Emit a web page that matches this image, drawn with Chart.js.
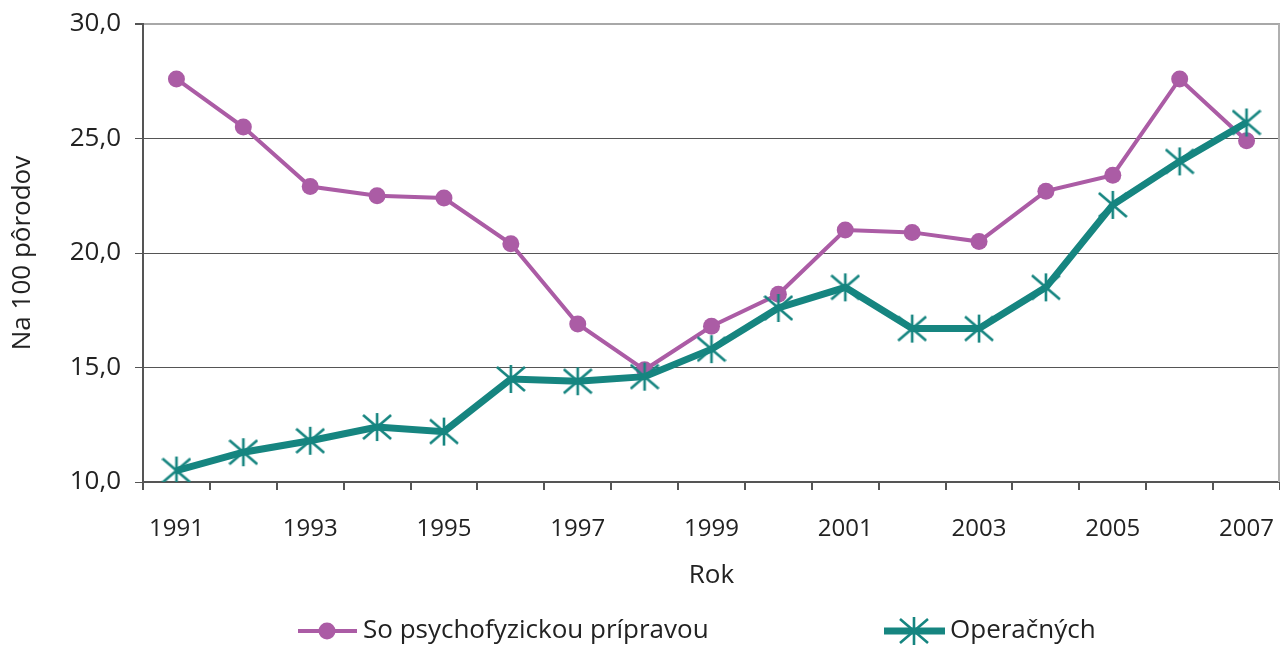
<!DOCTYPE html>
<html>
<head>
<meta charset="utf-8">
<script src="https://cdn.jsdelivr.net/npm/chart.js@4/dist/chart.umd.min.js"></script>
<style>
html,body{margin:0;padding:0;background:#fff;overflow:hidden;}
canvas{display:block;}
</style>
</head>
<body>
<canvas id="c" width="1280" height="648"></canvas>
<script>
const years = ['1991','1992','1993','1994','1995','1996','1997','1998','1999','2000','2001','2002','2003','2004','2005','2006','2007'];
const psychofyzicka = [27.6, 25.5, 22.9, 22.5, 22.4, 20.4, 16.9, 14.9, 16.8, 18.2, 21.0, 20.9, 20.5, 22.7, 23.4, 27.6, 24.9];
const operacne = [10.5, 11.3, 11.8, 12.4, 12.2, 14.5, 14.4, 14.6, 15.8, 17.6, 18.5, 16.7, 16.7, 18.5, 22.1, 24.0, 25.7];
const seriesNames = ['So psychofyzickou prípravou', 'Operačných'];
const yTicks = [10, 15, 20, 25, 30];

const PURPLE = '#AB5CA5';
const GREEN = '#168580';
const FONT = "'Open Sans', 'Liberation Sans', sans-serif";

function makeAsterisk(size, color, lw) {
  const cv = document.createElement('canvas');
  cv.width = size; cv.height = size;
  const g = cv.getContext('2d');
  g.strokeStyle = color; g.lineWidth = lw; g.lineCap = 'butt';
  const c = size / 2;
  g.beginPath();
  g.moveTo(c, 1); g.lineTo(c, size - 1);
  g.moveTo(1, size * 0.1); g.lineTo(size - 1, size * 0.9);
  g.moveTo(1, size * 0.9); g.lineTo(size - 1, size * 0.1);
  g.stroke();
  return cv;
}
const asterisk = makeAsterisk(30, GREEN, 2.6);

const customLegend = {
  id: 'customLegend',
  afterDraw(chart) {
    const ctx = chart.ctx;
    const y = 631;
    ctx.save();
    ctx.font = "26px " + FONT;
    ctx.textBaseline = 'middle';
    ctx.textAlign = 'left';
    ctx.strokeStyle = PURPLE; ctx.lineWidth = 4;
    ctx.beginPath(); ctx.moveTo(298, y); ctx.lineTo(357, y); ctx.stroke();
    ctx.fillStyle = PURPLE;
    ctx.beginPath(); ctx.arc(327, y, 8.5, 0, Math.PI * 2); ctx.fill();
    ctx.fillStyle = '#222';
    ctx.fillText(seriesNames[0], 363, y);
    ctx.strokeStyle = GREEN; ctx.lineWidth = 7;
    ctx.beginPath(); ctx.moveTo(884, y); ctx.lineTo(945, y); ctx.stroke();
    ctx.drawImage(asterisk, 914 - 15, y - 15);
    ctx.fillText(seriesNames[1], 950, y);
    ctx.restore();
  }
};

// stretch the plot area to the right edge of the canvas
const stretchRight = {
  id: 'stretchRight',
  afterLayout(chart) {
    const a = chart.chartArea;
    const newRight = chart.width;
    if (a.right < newRight) {
      a.right = newRight; a.width = newRight - a.left;
      const x = chart.scales.x;
      x.right = newRight; x.width = newRight - x.left;
      x.configure();
    }
  }
};

const frame = {
  id: 'frame',
  beforeDatasetsDraw(chart) {
    const a = chart.chartArea, ctx = chart.ctx;
    ctx.save();
    ctx.strokeStyle = '#b0b0b0'; ctx.lineWidth = 2;
    ctx.beginPath(); ctx.moveTo(a.right - 1, a.top); ctx.lineTo(a.right - 1, a.bottom); ctx.stroke();
    ctx.restore();
  }
};

function zeroPad(s) {
  s.paddingLeft = 0; s.paddingRight = 0; s.paddingTop = 0; s.paddingBottom = 0;
  s.getPadding = () => ({ left: 0, right: 0, top: 0, bottom: 0 });
}

new Chart(document.getElementById('c'), {
  type: 'line',
  data: {
    labels: years,
    datasets: [
      {
        label: seriesNames[0], data: psychofyzicka, order: 1,
        borderColor: PURPLE, backgroundColor: PURPLE, borderWidth: 4,
        pointRadius: 8.5, pointHoverRadius: 8.5, pointBorderWidth: 0,
        pointBackgroundColor: PURPLE, tension: 0
      },
      {
        label: seriesNames[1], data: operacne, order: 0,
        borderColor: GREEN, backgroundColor: GREEN, borderWidth: 7,
        pointStyle: asterisk, pointRadius: 15, pointHoverRadius: 15,
        tension: 0
      }
    ]
  },
  options: {
    responsive: false,
    animation: false,
    devicePixelRatio: 1,
    layout: { padding: { left: 0, right: 0, top: 24, bottom: 46 } },
    plugins: { legend: { display: false }, tooltip: { enabled: false } },
    scales: {
      x: {
        offset: true,
        grid: { offset: true, drawOnChartArea: false, drawTicks: true, tickLength: 8, color: '#555', lineWidth: 2 },
        border: { display: true, color: '#555', width: 2 },
        ticks: {
          autoSkip: false, maxRotation: 0, padding: 25, color: '#222',
          font: { family: FONT, size: 24 },
          callback: function(v, i) { return i % 2 === 0 ? years[i] : ''; }
        },
        title: { display: true, text: 'Rok', color: '#222', font: { family: FONT, size: 26 }, padding: { top: 0, bottom: 11 } },
        afterFit(s) { s.height = 120; zeroPad(s); }
      },
      y: {
        min: 10, max: 30,
        afterBuildTicks(s) { s.ticks = yTicks.map(v => ({ value: v })); },
        grid: {
          color: ctx => (ctx.tick && ctx.tick.value === 30) ? '#a8a8a8' : '#555',
          lineWidth: ctx => (ctx.tick && ctx.tick.value === 30) ? 2 : 1,
          tickLength: 8, tickColor: '#555'
        },
        border: { display: true, color: '#555', width: 2 },
        ticks: {
          padding: 14, color: '#222', font: { family: FONT, size: 26 },
          callback: v => v.toFixed(1).replace('.', ',')
        },
        title: { display: true, text: 'Na 100 pôrodov', color: '#222', font: { family: FONT, size: 26 }, padding: { top: 7, bottom: 0 } },
        afterFit(s) { s.width = 143; zeroPad(s); }
      }
    }
  },
  plugins: [stretchRight, frame, customLegend]
});
</script>
</body>
</html>
